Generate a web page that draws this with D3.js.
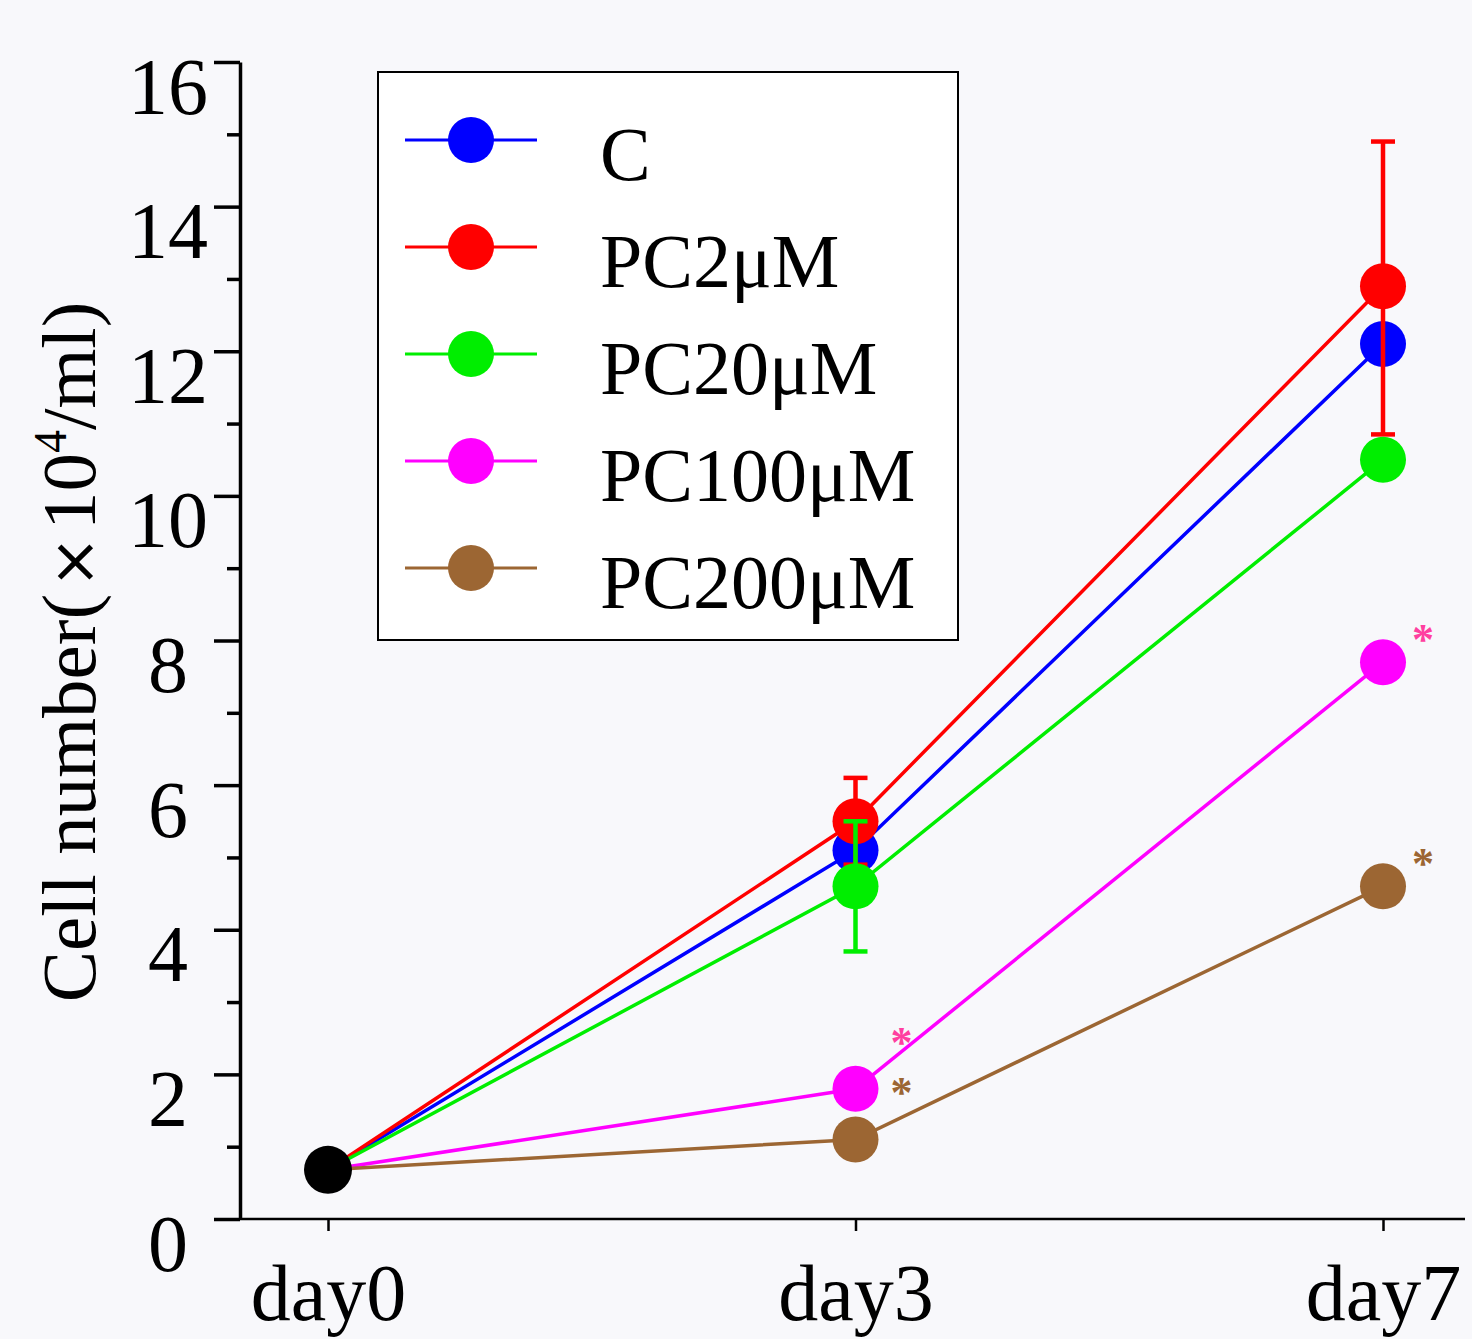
<!DOCTYPE html>
<html lang="en">
<head>
    <title>Cell number over time</title>
    <style>
        body, html { margin: 0; height: 100%; overflow: hidden; background: #f8f8fb; }
        svg { display: block; }
        text { font-family: "Liberation Serif", "Times New Roman", serif; fill: #000; }
    </style>
    <script src="https://d3js.org/d3.v7.min.js"></script>
</head>
<body>
    <svg></svg>

    <script>
        // data (cell number x10^4/ml)
        const days = ["day0", "day3", "day7"];
        const groups = ["C", "PC2μM", "PC20μM", "PC100μM", "PC200μM"];
        const colors = ["#0000ff", "#ff0000", "#00ee00", "#ff00ff", "#9c6633"];
        const C       = [0.68, 5.1, 12.1];
        const PC2     = [0.68, 5.5, 12.9];
        const PC20    = [0.68, 4.6, 10.5];
        const PC100   = [0.68, 1.8, 7.7];
        const PC200   = [0.68, 1.1, 4.6];
        // error bars: [group index, day index, low, high]
        const errors = [
            [1, 1, 4.9, 6.1],
            [2, 1, 3.7, 5.5],
            [1, 2, 10.85, 14.9]
        ];
        // significance marks: [group index, day index]
        const stars = [[3, 1], [4, 1], [3, 2], [4, 2]];
        const starColors = ["#ff3fa0", "#9c6633"];
        const yTicks = [0, 2, 4, 6, 8, 10, 12, 14, 16];
        const yMinor = [1, 3, 5, 7, 9, 11, 13, 15];

        const series = [C, PC2, PC20, PC100, PC200];

        const width = 1472, height = 1339;
        const margin = { top: 62, right: 7, bottom: 120, left: 240 };

        const svg = d3.select("svg").attr("width", width).attr("height", height);

        const x = d3.scalePoint()
            .domain(days)
            .range([328, 1383]);

        const y = d3.scaleLinear()
            .domain([0, 16])
            .range([height - margin.bottom, margin.top]);

        // y axis
        const yAxis = svg.append("g")
            .attr("transform", `translate(${margin.left},0)`)
            .call(d3.axisLeft(y).tickValues(yTicks).tickSize(26).tickSizeOuter(0));
        yAxis.select(".domain").attr("stroke-width", 3.5);
        yAxis.selectAll(".tick line").attr("stroke-width", 3.5);
        yAxis.selectAll(".tick text")
            .attr("font-size", 80)
            .attr("font-family", "Liberation Serif")
            .attr("text-anchor", "middle")
            .attr("x", -72)
            .attr("y", 51)
            .attr("dy", 0);

        svg.append("g")
            .attr("transform", `translate(${margin.left},0)`)
            .call(d3.axisLeft(y).tickValues(yMinor).tickSize(13).tickFormat(""))
            .call(g => g.select(".domain").remove())
            .selectAll(".tick line").attr("stroke-width", 3.5);

        // x axis
        const xAxis = svg.append("g")
            .attr("transform", `translate(0,${y(0)})`)
            .call(d3.axisBottom(x).tickSize(12).tickSizeOuter(0));
        xAxis.select(".domain").attr("d", `M${margin.left},0H${width - margin.right}`).attr("stroke-width", 2.5);
        xAxis.selectAll(".tick line").attr("stroke-width", 2.5);
        xAxis.selectAll(".tick text")
            .attr("font-size", 80)
            .attr("font-family", "Liberation Serif")
            .attr("y", 101)
            .attr("dy", 0);

        // y label
        const yl = svg.append("text")
            .attr("transform", `translate(95,652) rotate(-90)`)
            .attr("text-anchor", "middle")
            .attr("font-size", 77);
        yl.append("tspan").text("Cell number(");
        yl.append("tspan").attr("font-family", "DejaVu Sans").attr("font-size", 62).attr("dx", 6).text("×");
        yl.append("tspan").attr("dx", 6).text("10");
        yl.append("tspan").attr("font-size", 46).attr("dy", -29).text("4");
        yl.append("tspan").attr("dy", 29).text("/ml)");

        // lines
        const line = d3.line()
            .x((d, i) => x(days[i]))
            .y(d => y(d));

        const plot = svg.append("g");

        series.forEach((s, gi) => {
            plot.append("path")
                .datum(s)
                .attr("fill", "none")
                .attr("stroke", colors[gi])
                .attr("stroke-width", 3.5)
                .attr("d", line);
        });

        series.forEach((s, gi) => {
            errors.filter(e => e[0] === gi).forEach(e => {
                const cx = x(days[e[1]]);
                const g = plot.append("g").attr("stroke", colors[gi]).attr("stroke-width", 4.5);
                g.append("line").attr("x1", cx).attr("x2", cx).attr("y1", y(e[2])).attr("y2", y(e[3]));
                g.append("line").attr("x1", cx - 12).attr("x2", cx + 12).attr("y1", y(e[2])).attr("y2", y(e[2]));
                g.append("line").attr("x1", cx - 12).attr("x2", cx + 12).attr("y1", y(e[3])).attr("y2", y(e[3]));
            });
            plot.selectAll(null)
                .data(s.slice(1))
                .enter().append("circle")
                .attr("cx", (d, i) => x(days[i + 1]))
                .attr("cy", d => y(d))
                .attr("r", 23)
                .attr("fill", colors[gi]);
        });

        // common starting point at day0
        plot.append("circle")
            .attr("cx", x(days[0]))
            .attr("cy", y(C[0]))
            .attr("r", 24)
            .attr("fill", "#000");

        // stars
        const starOffset = { day3: [46, -32], day7: [40, -8] };
        stars.forEach(([gi, di]) => {
            const o = starOffset[days[di]];
            svg.append("text")
                .attr("x", x(days[di]) + o[0])
                .attr("y", y(series[gi][di]) + o[1])
                .attr("text-anchor", "middle")
                .attr("font-family", "DejaVu Sans")
                .attr("font-weight", "bold")
                .attr("font-size", 44)
                .style("fill", starColors[gi - 3])
                .text("*");
        });

        // legend
        const lg = svg.append("g").attr("transform", "translate(378,72)");
        lg.append("rect")
            .attr("width", 580).attr("height", 568)
            .attr("fill", "#fff")
            .attr("stroke", "#000")
            .attr("stroke-width", 2);

        groups.forEach((name, gi) => {
            const row = lg.append("g").attr("transform", `translate(0,${68 + gi * 107})`);
            row.append("line")
                .attr("x1", 27).attr("x2", 159)
                .attr("stroke", colors[gi]).attr("stroke-width", 3);
            row.append("circle").attr("cx", 93).attr("r", 23).attr("fill", colors[gi]);
            row.append("text")
                .attr("x", 222).attr("y", 40)
                .attr("font-size", 76)
                .text(name);
        });
    </script>
</body>
</html>
